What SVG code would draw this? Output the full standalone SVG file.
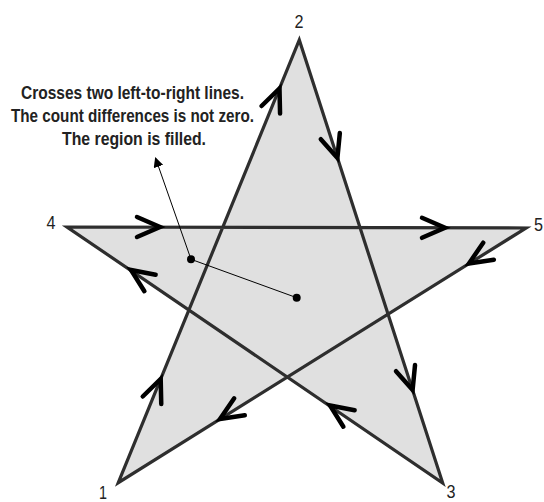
<svg xmlns="http://www.w3.org/2000/svg" width="544" height="502" viewBox="0 0 544 502">
<style>
.star{fill:#e0e0e0;stroke:#2e2e2e;stroke-width:3.2;stroke-linejoin:miter}
.chev{fill:none;stroke:#000;stroke-width:4.5;stroke-linecap:round;stroke-linejoin:miter}
.num{font-family:"Liberation Sans",Arial,sans-serif;font-size:18px;fill:#222;text-anchor:middle}
.note{font-family:"Liberation Sans",Arial,sans-serif;font-size:18px;font-weight:bold;fill:#222;text-anchor:middle}
.ptr{stroke:#000;stroke-width:1;fill:none}
</style>
<defs>
<path id="chev" class="chev" d="M-23,-10 L0,0 L-23,10"/>
<marker id="ah" viewBox="0 0 10 10" refX="9" refY="5" markerWidth="10" markerHeight="10" markerUnits="userSpaceOnUse" orient="auto">
<path d="M0,0 L10,5 L0,10 Z" fill="#000"/>
</marker>
</defs>
<rect width="544" height="502" fill="#fff"/>
<g id="star">
<polygon class="star" points="118.3,482.7 299.3,40 442.7,483 67,227 526,228"/>
</g>
<g id="connectors">
<use href="#chev" transform="translate(160.7,379) rotate(-67.76)"/>
<use href="#chev" transform="translate(279.5,88.5) rotate(-67.76)"/>
<use href="#chev" transform="translate(337.4,158) rotate(72.06)"/>
<use href="#chev" transform="translate(412.6,390) rotate(72.06)"/>
<use href="#chev" transform="translate(330,405.5) rotate(-145.73)"/>
<use href="#chev" transform="translate(131,270) rotate(-145.73)"/>
<use href="#chev" transform="translate(160,227) rotate(0)"/>
<use href="#chev" transform="translate(445,227.8) rotate(0)"/>
<use href="#chev" transform="translate(469,263.4) rotate(148)"/>
<use href="#chev" transform="translate(220,419) rotate(148)"/>
</g>
<g id="label-1"><text class="num" x="103" y="498.5" textLength="8" lengthAdjust="spacingAndGlyphs">1</text></g>
<g id="label-2"><text class="num" x="299" y="27.5" textLength="9" lengthAdjust="spacingAndGlyphs">2</text></g>
<g id="label-3"><text class="num" x="451" y="498" textLength="9" lengthAdjust="spacingAndGlyphs">3</text></g>
<g id="label-4"><text class="num" x="51" y="228.5" textLength="9" lengthAdjust="spacingAndGlyphs">4</text></g>
<g id="label-5"><text class="num" x="538.5" y="231" textLength="9" lengthAdjust="spacingAndGlyphs">5</text></g>
<g id="callout">
<text class="note" x="132.5" y="99" textLength="223" lengthAdjust="spacingAndGlyphs">Crosses two left-to-right lines.</text>
<text class="note" x="132.5" y="122" textLength="243" lengthAdjust="spacingAndGlyphs">The count differences is not zero.</text>
<text class="note" x="134" y="145" textLength="144" lengthAdjust="spacingAndGlyphs">The region is filled.</text>
<line class="ptr" x1="191" y1="259.3" x2="155.5" y2="158" marker-end="url(#ah)"/>
<line class="ptr" x1="191" y1="259.3" x2="296.7" y2="297.7"/>
<circle cx="191" cy="259.3" r="4" fill="#000"/>
<circle cx="296.7" cy="297.7" r="4" fill="#000"/>
</g>
</svg>
